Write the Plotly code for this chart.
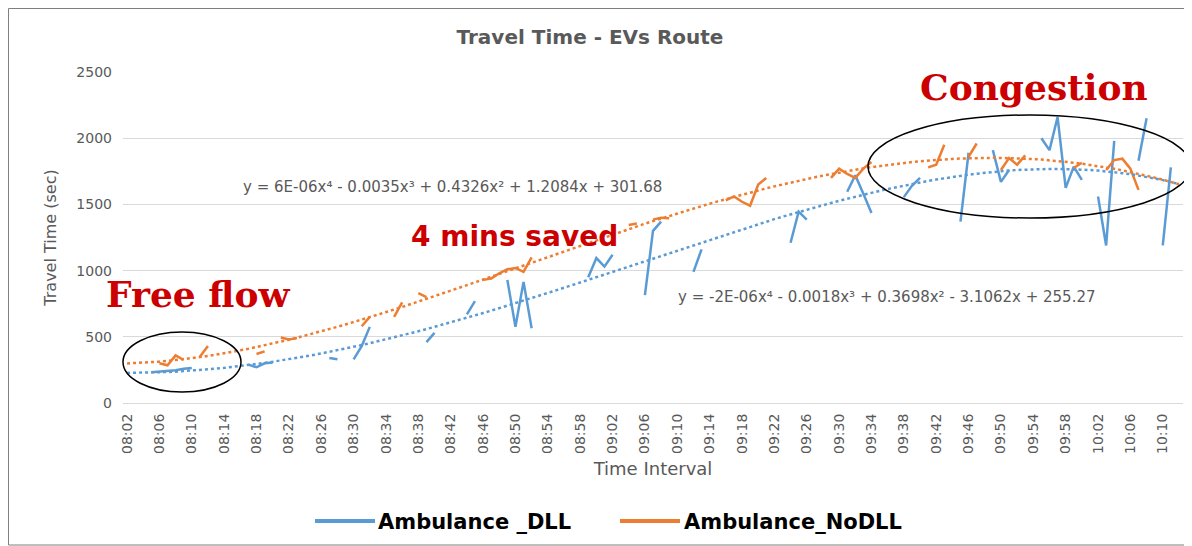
import numpy as np
import plotly.graph_objects as go

# ---------------- data ----------------
times = []
for m in range(8 * 60 + 2, 10 * 60 + 13):
    times.append(f"{m // 60:02d}:{m % 60:02d}")

dll = [
    None, None, None, 232, 236, 240, 248, 258, 265, None,
    None, None, None, None, None, 290, 270, 300, 305, None,
    None, None, None, None, None, 340, 330, None, 330, 430,
    575, None, None, None, None, None, None, 460, 530, None,
    None, None, 670, 770, None, None, None, 930, 575, 915,
    565, None, None, None, None, None, None, 950, 1095, 1030,
    1120, None, None, None, 815, 1300, 1370, None, None, None,
    990, 1160, None, None, None, None, None, None, None, None,
    None, None, 1210, 1445, 1385, None, None, None, None, 1595,
    1720, 1580, 1435, None, None, None, 1555, 1640, 1700, None,
    None, None, None, 1370, 1890, None, None, 1910, 1670, 1760,
    None, None, None, 2000, 1910, 2160, 1625, 1785, 1685, None,
    1560, 1190, 1980, None, None, 1830, 2150, None, 1190, 1780,
    None,
]

nodll = [
    None, None, None, None, 300, 285, 360, 325, None, 350,
    430, None, None, None, None, None, 370, 390, None, 495,
    480, 490, None, None, None, None, None, None, None, 580,
    650, None, None, 650, 760, None, 830, 800, None, None,
    None, None, None, None, 930, 940, 980, 1010, 1020, 990,
    1100, None, None, None, None, None, None, None, None, None,
    None, None, 1345, 1355, None, 1385, 1400, 1395, None, None,
    None, None, None, None, 1530, 1560, 1520, 1490, 1650, 1700,
    None, None, None, None, None, None, None, 1700, 1770, 1730,
    1700, 1770, 1820, None, None, None, None, None, None, 1780,
    1800, 1950, None, None, 1860, 1960, None, None, 1760, 1850,
    1800, 1870, None, None, None, None, None, 1775, 1815, None,
    None, 1760, 1835, 1845, 1770, 1610, None, None, None, None,
    None,
]

series_names = ["Ambulance _DLL", "Ambulance_NoDLL"]
eq_nodll = "y = 6E-06x⁴ - 0.0035x³ + 0.4326x² + 1.2084x + 301.68"
eq_dll = "y = -2E-06x⁴ - 0.0018x³ + 0.3698x² - 3.1062x + 255.27"

# ---------------- layout constants ----------------
OFF = 8                      # page body margin
W, H = 1192 - OFF, 546 - OFF
L, T = 123 - OFF, 72 - OFF
B = H - (403 - OFF)
R = W - (1183 - OFF)
PW, PH = W - L - R, H - T - B


def px(x):   # page x -> paper
    return (x - OFF - L) / PW


def py(y):   # page y -> paper
    return (H - B - (y - OFF)) / PH


BLUE = "#5b9bd5"
ORANGE = "#ed7d31"
GRAY = "#595959"
RED = "#cc0000"

idx = np.arange(len(times))


def trend(vals):
    xs = np.array([i + 1 for i, v in enumerate(vals) if v is not None], float)
    ys = np.array([v for v in vals if v is not None], float)
    c = np.polyfit(xs, ys, 4)
    return np.polyval(c, idx + 1)


fig = go.Figure()
fig.add_trace(go.Scatter(x=idx, y=dll, mode="lines", name=series_names[0],
                         line=dict(color=BLUE, width=2.5), connectgaps=False))
fig.add_trace(go.Scatter(x=idx, y=nodll, mode="lines", name=series_names[1],
                         line=dict(color=ORANGE, width=2.5), connectgaps=False))
fig.add_trace(go.Scatter(x=idx, y=trend(dll), mode="lines", showlegend=False,
                         line=dict(color=BLUE, width=2.5, dash="dot"), hoverinfo="skip"))
fig.add_trace(go.Scatter(x=idx, y=trend(nodll), mode="lines", showlegend=False,
                         line=dict(color=ORANGE, width=2.5, dash="dot"), hoverinfo="skip"))

tickvals = list(range(0, len(times), 4))
ticktext = [times[i] for i in tickvals]

fig.update_layout(
    width=W, height=H,
    margin=dict(l=L, r=R, t=T, b=B, autoexpand=False),
    paper_bgcolor="white", plot_bgcolor="white",
    title=dict(text="<b>Travel Time - EVs Route</b>", x=(590 - OFF) / W, xref="container",
               y=1 - (37 - OFF) / H, yref="container", xanchor="center", yanchor="middle",
               font=dict(family="DejaVu Sans", size=20, color=GRAY)),
    xaxis=dict(range=[-0.5, len(times) - 0.5], tickmode="array", tickvals=tickvals,
               ticktext=ticktext, tickangle=-90, showgrid=False, zeroline=False,
               showline=True, linecolor="#d9d9d9", ticks="", ticklabelstandoff=4,
               tickfont=dict(family="DejaVu Sans", size=14, color=GRAY),
               title=dict(text="Time Interval", standoff=9,
                          font=dict(family="DejaVu Sans", size=18, color=GRAY))),
    yaxis=dict(range=[0, 2500], dtick=500, showgrid=True, gridcolor="#d9d9d9",
               zeroline=False, showline=False, ticks="", ticklabelstandoff=10,
               tickfont=dict(family="DejaVu Sans", size=14, color=GRAY),
               title=dict(text="Travel Time (sec)", standoff=15,
                          font=dict(family="DejaVu Sans", size=16, color=GRAY))),
    legend=dict(orientation="h", x=px(338), xanchor="left", y=py(521), yanchor="middle",
                entrywidth=261, entrywidthmode="pixels",
                font=dict(family="DejaVu Sans", size=21, color="#000000", weight="bold"),
                bgcolor="rgba(0,0,0,0)"),
    showlegend=True,
)

annos = [
    dict(text="Free flow", x=px(198), y=py(294),
         font=dict(family="DejaVu Serif", size=36, color=RED, weight="bold")),
    dict(text="4 mins saved", x=px(514), y=py(236),
         font=dict(family="DejaVu Sans", size=28, color=RED, weight="bold")),
    dict(text="Congestion", x=px(1034), y=py(87),
         font=dict(family="DejaVu Serif", size=36, color=RED, weight="bold")),
    dict(text=eq_nodll, x=px(452), y=py(187),
         font=dict(family="DejaVu Sans", size=15, color=GRAY)),
    dict(text=eq_dll, x=px(887), y=py(297),
         font=dict(family="DejaVu Sans", size=15, color=GRAY)),
]
for a in annos:
    fig.add_annotation(xref="paper", yref="paper", xanchor="center", yanchor="middle",
                       showarrow=False, **a)

# ellipses marking regions
fig.add_shape(type="circle", xref="paper", yref="paper",
              x0=px(123), x1=px(241), y0=py(392), y1=py(332),
              line=dict(color="#000000", width=1.5))
fig.add_shape(type="circle", xref="paper", yref="paper",
              x0=px(868), x1=px(1191), y0=py(218), y1=py(115),
              line=dict(color="#000000", width=1.5))
# longer, thicker legend keys
fig.add_shape(type="line", xref="paper", yref="paper",
              x0=px(315), x1=px(375), y0=py(521), y1=py(521),
              line=dict(color=BLUE, width=4))
fig.add_shape(type="line", xref="paper", yref="paper",
              x0=px(620), x1=px(680), y0=py(521), y1=py(521),
              line=dict(color=ORANGE, width=4))
# chart frame
fig.add_shape(type="rect", xref="paper", yref="paper",
              x0=px(OFF + 0.5), x1=px(1191), y0=py(545), y1=py(OFF + 0.5),
              line=dict(color="#7f7f7f", width=1), layer="below")

fig.write_html("out.html")
